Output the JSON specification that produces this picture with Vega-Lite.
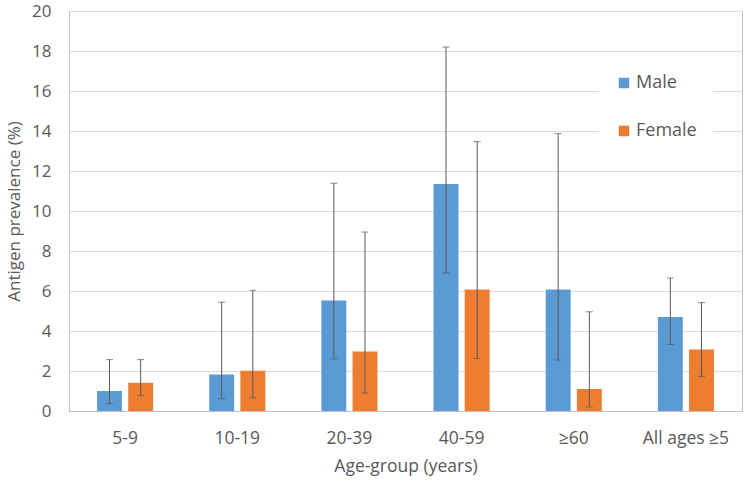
{
  "$schema": "https://vega.github.io/schema/vega-lite/v6.json",
  "width": 673,
  "height": 400,
  "autosize": {"type": "none"},
  "padding": {"left": 69, "top": 11, "right": 5, "bottom": 80},
  "background": "white",
  "config": {
    "font": "Open Sans",
    "view": {"stroke": "#bfbfbf", "strokeWidth": 1},
    "axisX": {
      "labelAngle": 0,
      "labelFontSize": 17.5,
      "labelColor": "#595959",
      "labelPadding": 18,
      "ticks": false,
      "domainColor": "#bfbfbf",
      "titleFontSize": 17.5,
      "titleFontWeight": "normal",
      "titleColor": "#595959",
      "titlePadding": 11
    },
    "axisY": {
      "values": [0, 2, 4, 6, 8, 10, 12, 14, 16, 18, 20],
      "labelOverlap": false,
      "labelFontSize": 17,
      "labelColor": "#595959",
      "labelPadding": 18,
      "ticks": false,
      "domainColor": "#bfbfbf",
      "gridColor": "#d9d9d9",
      "titleFontSize": 17,
      "titleFontWeight": "normal",
      "titleColor": "#595959",
      "titlePadding": 8
    }
  },
  "data": {
    "values": [
      {"age": "5-9", "sex": "Male", "value": 1.0, "lo": 0.37, "hi": 2.57},
      {"age": "5-9", "sex": "Female", "value": 1.41, "lo": 0.77, "hi": 2.57},
      {"age": "10-19", "sex": "Male", "value": 1.83, "lo": 0.61, "hi": 5.44},
      {"age": "10-19", "sex": "Female", "value": 2.01, "lo": 0.66, "hi": 6.04},
      {"age": "20-39", "sex": "Male", "value": 5.53, "lo": 2.6, "hi": 11.39},
      {"age": "20-39", "sex": "Female", "value": 2.97, "lo": 0.9, "hi": 8.95},
      {"age": "40-59", "sex": "Male", "value": 11.35, "lo": 6.9, "hi": 18.2},
      {"age": "40-59", "sex": "Female", "value": 6.08, "lo": 2.63, "hi": 13.47},
      {"age": "≥60", "sex": "Male", "value": 6.08, "lo": 2.55, "hi": 13.87},
      {"age": "≥60", "sex": "Female", "value": 1.1, "lo": 0.2, "hi": 4.96},
      {"age": "All ages ≥5", "sex": "Male", "value": 4.7, "lo": 3.33, "hi": 6.65},
      {"age": "All ages ≥5", "sex": "Female", "value": 3.08, "lo": 1.73, "hi": 5.42}
    ]
  },
  "encoding": {
    "x": {
      "field": "age",
      "type": "nominal",
      "sort": ["5-9", "10-19", "20-39", "40-59", "≥60", "All ages ≥5"],
      "scale": {"paddingInner": 0.5, "paddingOuter": 0.25},
      "axis": {"title": "Age-group (years)"}
    },
    "xOffset": {
      "field": "sex",
      "type": "nominal",
      "sort": ["Male", "Female"],
      "scale": {"paddingInner": 0.2, "paddingOuter": 0}
    }
  },
  "layer": [
    {
      "mark": {"type": "bar"},
      "encoding": {
        "y": {
          "field": "value",
          "type": "quantitative",
          "scale": {"domain": [0, 20]},
          "axis": {"title": "Antigen prevalence (%)"}
        },
        "color": {
          "field": "sex",
          "type": "nominal",
          "sort": ["Male", "Female"],
          "scale": {"domain": ["Male", "Female"], "range": ["#5b9bd5", "#ed7d31"]},
          "legend": {
            "title": null,
            "orient": "none",
            "legendX": 530,
            "legendY": 47,
            "fillColor": "white",
            "padding": 16,
            "symbolType": "square",
            "symbolSize": 110,
            "symbolStrokeWidth": 0,
            "labelFontSize": 18,
            "labelColor": "#595959",
            "labelOffset": 3,
            "rowPadding": 30
          }
        }
      }
    },
    {
      "mark": {"type": "rule", "color": "#595959", "strokeWidth": 1},
      "encoding": {
        "y": {"field": "lo", "type": "quantitative", "axis": {"title": "Antigen prevalence (%)"}},
        "y2": {"field": "hi"}
      }
    },
    {
      "mark": {"type": "tick", "color": "#595959", "thickness": 1, "size": 7},
      "encoding": {
        "y": {"field": "hi", "type": "quantitative", "axis": {"title": "Antigen prevalence (%)"}}
      }
    },
    {
      "mark": {"type": "tick", "color": "#595959", "thickness": 1, "size": 7},
      "encoding": {
        "y": {"field": "lo", "type": "quantitative", "axis": {"title": "Antigen prevalence (%)"}}
      }
    }
  ]
}
